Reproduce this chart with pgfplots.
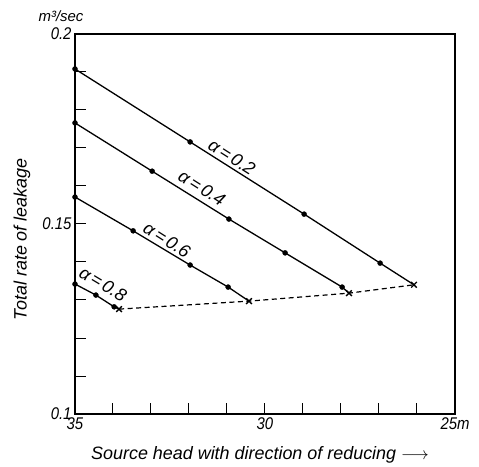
\documentclass[border=0pt]{standalone}
\usepackage{fontspec}
\setmainfont{Liberation Sans}
\newfontfamily\ticknarrow{Liberation Sans}[FakeStretch=0.88]
\usepackage{pgfplots}
\pgfplotsset{compat=1.18}
\begin{document}
\begin{tikzpicture}
\begin{axis}[
  name=ax, at={(0,0)}, anchor=south west,
  scale only axis, width=380bp, height=380bp,
  x dir=reverse, xmin=25, xmax=35, ymin=0.1, ymax=0.2,
  clip=false,
  axis line style={line width=1.4bp},
  xtick={25,26,27,28,29,30,31,32,33,34,35},
  xticklabels={25m,,,,,30,,,,,35},
  ytick={0.1,0.11,0.12,0.13,0.14,0.15,0.16,0.17,0.18,0.19,0.2},
  yticklabels={0.1,,,,,0.15,,,,,0.2},
  tick align=inside, tick pos=left, major tick length=11bp,
  tick style={line width=1bp, black},
  tick label style={font=\ticknarrow\itshape\fontsize{17}{19}\selectfont},
  xlabel={Source head with direction of reducing $\longrightarrow$},
  ylabel={Total rate of leakage},
  label style={font=\itshape\fontsize{18}{20}\selectfont},
  x label style={at={(rel axis cs:0.487,0)}, anchor=center, yshift=-41bp},
  y label style={at={(rel axis cs:0,0.46)}, anchor=center, yshift=53bp},
]
% solid lines
\addplot[black, line width=1.3bp] coordinates {(35,0.1908) (31.97,0.1716) (28.97,0.1526) (26.97,0.1397) (26.08,0.1340)};
\addplot[black, line width=1.3bp] coordinates {(35,0.1766) (32.97,0.1639) (30.95,0.1513) (29.47,0.1424) (27.97,0.1334) (27.79,0.1318)};
\addplot[black, line width=1.3bp] coordinates {(35,0.1571) (33.47,0.1482) (31.97,0.1392) (30.97,0.1334) (30.42,0.1297)};
\addplot[black, line width=1.3bp] coordinates {(35,0.1342) (34.45,0.1313) (33.97,0.1282) (33.84,0.1276)};
% dots
\addplot[only marks, mark=*, mark size=2.5bp, black] coordinates {
  (35,0.1908) (31.97,0.1716) (28.97,0.1526) (26.97,0.1397)
  (35,0.1766) (32.97,0.1639) (30.95,0.1513) (29.47,0.1424) (27.97,0.1334)
  (35,0.1571) (33.47,0.1482) (31.97,0.1392) (30.97,0.1334)
  (35,0.1342) (34.45,0.1313) (33.97,0.1282)};
% dashed envelope with crosses
\addplot[black, line width=1.2bp, dash pattern=on 5bp off 3.5bp, mark=x, mark size=4bp, mark options={solid, line width=1.4bp}] coordinates {(33.84,0.1276) (30.42,0.1297) (27.79,0.1318) (26.08,0.1340)};
% labels
\node[rotate=-32.5, font=\itshape\fontsize{18}{20}\selectfont] at (axis cs:30.87,0.1676) {α\,=\,0.2};
\node[rotate=-32.5, font=\itshape\fontsize{18}{20}\selectfont] at (axis cs:31.66,0.1595) {α\,=\,0.4};
\node[rotate=-32.5, font=\itshape\fontsize{18}{20}\selectfont] at (axis cs:32.58,0.1458) {α\,=\,0.6};
\node[rotate=-31, font=\itshape\fontsize{18}{20}\selectfont] at (axis cs:34.26,0.1342) {α\,=\,0.8};
\end{axis}
\node[font=\itshape\fontsize{15}{17}\selectfont] at (-14bp,398bp) {m³/sec};
\pgfresetboundingbox
\path[use as bounding box] (-75bp,-53bp) rectangle (404bp,414bp);
\end{tikzpicture}
\end{document}
